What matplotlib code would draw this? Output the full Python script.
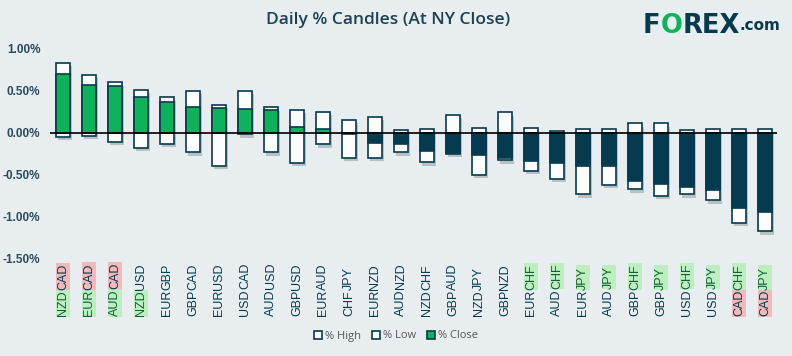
import matplotlib
matplotlib.use('Agg')
import matplotlib.pyplot as plt
import matplotlib.patheffects as pe
from matplotlib.patches import Patch, Rectangle

# currency pairs, sorted by daily close
pairs = ['NZDCAD', 'EURCAD', 'AUDCAD', 'NZDUSD', 'EURGBP', 'GBPCAD', 'EURUSD',
         'USDCAD', 'AUDUSD', 'GBPUSD', 'EURAUD', 'CHFJPY', 'EURNZD', 'AUDNZD',
         'NZDCHF', 'GBPAUD', 'NZDJPY', 'GBPNZD', 'EURCHF', 'AUDCHF', 'EURJPY',
         'AUDJPY', 'GBPCHF', 'GBPJPY', 'USDCHF', 'USDJPY', 'CADCHF', 'CADJPY']
pct_high = [0.83, 0.69, 0.60, 0.51, 0.42, 0.50, 0.33, 0.50, 0.30, 0.27,
            0.25, 0.15, 0.19, 0.03, 0.04, 0.21, 0.06, 0.24, 0.05, 0.02,
            0.04, 0.04, 0.11, 0.11, 0.03, 0.04, 0.04, 0.04]
pct_low = [-0.05, -0.04, -0.11, -0.18, -0.13, -0.23, -0.39, -0.02, -0.23, -0.36,
           -0.14, -0.30, -0.30, -0.23, -0.35, -0.25, -0.50, -0.33, -0.45, -0.55,
           -0.73, -0.62, -0.67, -0.75, -0.73, -0.80, -1.07, -1.17]
pct_close = [0.70, 0.57, 0.55, 0.42, 0.36, 0.30, 0.29, 0.28, 0.27, 0.07,
             0.04, -0.02, -0.12, -0.13, -0.22, -0.24, -0.27, -0.30, -0.34, -0.36,
             -0.40, -0.40, -0.57, -0.61, -0.64, -0.68, -0.89, -0.94]
# label highlight for base / quote currency: 'g' strong, 'r' weak, '' none
base_hl = ['g', 'g', 'g', 'g', '', '', '', '', '', '', '', '', '', '',
           '', '', '', '', '', '', '', '', '', '', '', '', 'r', 'r']
quote_hl = ['r', 'r', 'r', '', '', '', '', '', '', '', '', '', '', '',
            '', '', '', '', 'g', 'g', 'g', 'g', 'g', 'g', 'g', 'g', 'g', 'g']
yticks = [-1.5, -1.0, -0.5, 0.0, 0.5, 1.0]

bg = '#e8eef0'
dark = '#063a4e'
green = '#0db25a'
hl_colors = {'g': '#bdeebf', 'r': '#f1b9bc'}
txt_colors = {'g': '#0f5e38', 'r': dark, '': dark}

fig = plt.figure(figsize=(7.92, 3.56), dpi=100, facecolor=bg)
ax = fig.add_axes([0.0631, 0.2725, 0.9179, 0.6151], facecolor=bg)

shadow = [pe.SimplePatchShadow(offset=(1.5, -2.5), shadow_rgbFace='#6f7d84', alpha=0.4), pe.Normal()]
x = list(range(len(pairs)))
w = 0.55
bh = ax.bar(x, pct_high, width=w, color='white', edgecolor=dark, linewidth=1.2, zorder=2)
bl = ax.bar(x, pct_low, width=w, color='white', edgecolor=dark, linewidth=1.2, zorder=2)
close_cols = [green if c >= 0 else dark for c in pct_close]
bc = ax.bar(x, pct_close, width=w, color=close_cols, edgecolor=dark, linewidth=1.2, zorder=3)
for b in list(bh) + list(bl):
    b.set_path_effects(shadow)
ax.axhline(0, color='black', linewidth=1.2, zorder=4)

ax.set_xlim(-0.5, 27.46)
ax.set_ylim(-1.5, 1.1)
ax.set_yticks(yticks)
ax.set_yticklabels(['{:.2f}%'.format(v) for v in yticks], fontsize=8.5,
                   fontweight='bold', color='#2b4a5a', family='Liberation Sans')
ax.tick_params(axis='y', length=0, pad=7)
ax.set_xticks([])
for s in ax.spines.values():
    s.set_visible(False)

# pair labels: measure the full label, then draw base and quote separately
lab = dict(rotation=90, ha='center', fontsize=9, family='Liberation Sans',
           annotation_clip=False)
fulls = []
for i, p in enumerate(pairs):
    fulls.append(ax.annotate(p, xy=(i, 0), xycoords=('data', 'axes fraction'),
                             xytext=(0, -41), textcoords='offset points',
                             va='bottom', **lab))
fig.canvas.draw()
inv = fig.transFigure.inverted()
pad = 1.3
for i, p in enumerate(pairs):
    fb = fulls[i].get_window_extent()
    fulls[i].remove()
    tb = ax.annotate(p[:3], xy=(i, 0), xycoords=('data', 'axes fraction'),
                     xytext=(0, -41), textcoords='offset points', va='bottom',
                     color=txt_colors[base_hl[i]], zorder=6, **lab)
    top = inv.transform((fb.x0 + fb.width / 2, fb.y1))
    tq = ax.annotate(p[3:], xy=tuple(top), xycoords='figure fraction', va='top',
                     color=txt_colors[quote_hl[i]], zorder=6, **lab)
    bb = tb.get_window_extent(fig.canvas.get_renderer())
    qb = tq.get_window_extent(fig.canvas.get_renderer())
    split = (bb.y1 + qb.y0) / 2
    spans = [(base_hl[i], fb.y0 - pad, split), (quote_hl[i], split, fb.y1 + pad)]
    for hl, ya, yb in spans:
        if not hl:
            continue
        (x0, y0), (x1, y1) = inv.transform([(fb.x0 - pad, ya), (fb.x1 + pad, yb)])
        fig.add_artist(Rectangle((x0, y0), x1 - x0, y1 - y0, transform=fig.transFigure,
                                 facecolor=hl_colors[hl], edgecolor='none', zorder=-1))

fig.text(0.49, 0.945, 'Daily % Candles (At NY Close)', ha='center', va='center',
         fontsize=12.5, fontweight='semibold', color='#1d4152', family='Open Sans')

# logo
l1 = fig.text(0.812, 0.89, 'F', fontsize=18.5, fontweight='bold', color=dark,
              family='DejaVu Sans', va='bottom', ha='left')
l2 = ax.annotate('O', xy=(1, 0), xycoords=l1, fontsize=18.5, fontweight='bold',
                 color=green, family='DejaVu Sans', va='bottom', ha='left', annotation_clip=False)
l3 = ax.annotate('REX', xy=(1, 0), xycoords=l2, fontsize=18.5, fontweight='bold',
                 color=dark, family='DejaVu Sans', va='bottom', ha='left', annotation_clip=False)
ax.annotate('.com', xy=(1, 0.22), xycoords=l3, fontsize=11, fontweight='bold',
            color=dark, family='DejaVu Sans', va='bottom', ha='left', annotation_clip=False)

handles = [Patch(facecolor='white', edgecolor=dark, linewidth=1.2, label='% High'),
           Patch(facecolor='white', edgecolor=dark, linewidth=1.2, label='% Low'),
           Patch(facecolor=green, edgecolor=dark, linewidth=1.2, label='% Close')]
fig.legend(handles=handles, loc='center', bbox_to_anchor=(0.5, 1 - 336 / 356), ncol=3,
           frameon=False, handlelength=0.7, handleheight=0.7, handletextpad=0.25,
           columnspacing=1.0, prop={'family': 'Open Sans', 'size': 8}, labelcolor='#555555')

fig.savefig('out.png', dpi=100, facecolor=bg)
